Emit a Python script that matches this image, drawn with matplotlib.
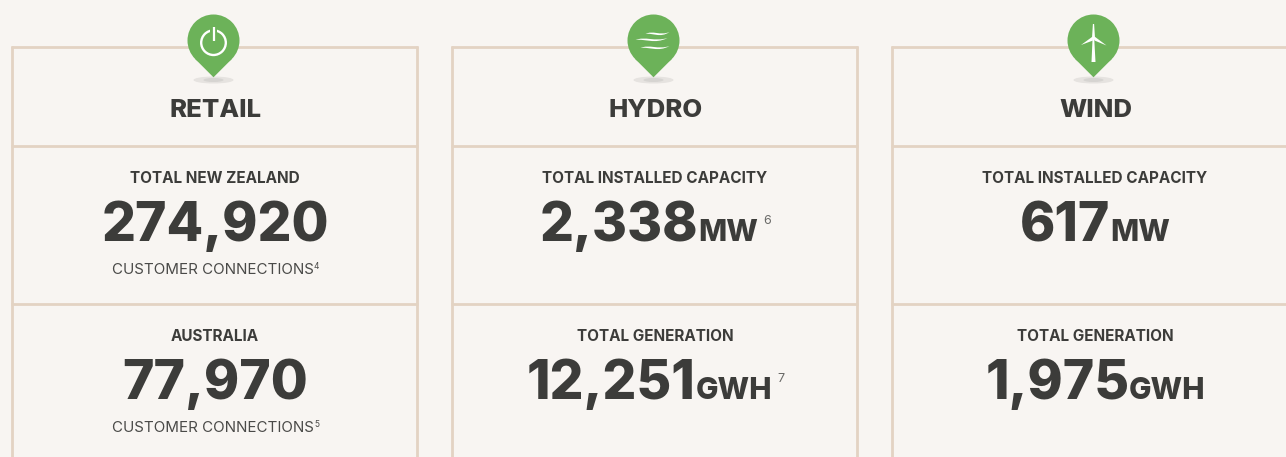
import matplotlib
matplotlib.use('Agg')
import matplotlib.pyplot as plt
from matplotlib.patches import Circle, Ellipse, PathPatch, Polygon
from matplotlib.path import Path

columns = ['RETAIL', 'HYDRO', 'WIND']
top_labels = ['TOTAL NEW ZEALAND', 'TOTAL INSTALLED CAPACITY', 'TOTAL INSTALLED CAPACITY']
top_values = ['274,920', '2,338', '617']
top_units = ['', 'MW', 'MW']
top_notes = ['', '6', '']
top_captions = ['CUSTOMER CONNECTIONS', '', '']
top_caption_notes = ['4', '', '']
bottom_labels = ['AUSTRALIA', 'TOTAL GENERATION', 'TOTAL GENERATION']
bottom_values = ['77,970', '12,251', '1,975']
bottom_units = ['', 'GWH', 'GWH']
bottom_notes = ['', '7', '']
bottom_captions = ['CUSTOMER CONNECTIONS', '', '']
bottom_caption_notes = ['5', '', '']

BG = '#f8f5f2'
LINE = '#e3d3c3'
DARK = '#3c3c3a'
GREEN = '#6cb259'
FONT = 'Inter'

fig = plt.figure(figsize=(12.86, 4.57), dpi=100, facecolor=BG)
ax = fig.add_axes([0, 0, 1, 1])
ax.set_xlim(0, 1286)
ax.set_ylim(457, 0)
ax.axis('off')
renderer = fig.canvas.get_renderer()


def width_of(t):
    return t.get_window_extent(renderer).width


def pin(cx):
    ax.add_patch(Ellipse((cx, 80), 40, 7, fc='#e6e3e0', ec='none', zorder=3))
    ax.add_patch(Ellipse((cx, 80), 20, 4, fc='#d6d4d1', ec='none', zorder=3))
    ax.add_patch(Circle((cx, 40.5), 26, fc=GREEN, ec='none', zorder=4))
    ax.add_patch(Polygon([(cx - 18.4, 58.9), (cx, 77.3), (cx + 18.4, 58.9)], fc=GREEN, ec='none', zorder=4))


def power_icon(cx):
    ax.add_patch(Circle((cx, 42.7), 12.3, fc='none', ec='white', lw=1.7, zorder=5))
    ax.add_patch(Polygon([(cx - 3.5, 24), (cx + 3.5, 24), (cx + 3.5, 44), (cx - 3.5, 44)], fc=GREEN, ec='none', zorder=6))
    ax.plot([cx, cx], [26.5, 41], color='white', lw=1.6, zorder=7, solid_capstyle='butt')


def wave(x0, x1, y):
    w = x1 - x0
    verts = [(x0, y + 1), (x0 + w * 0.3, y - 3), (x0 + w * 0.6, y + 3), (x1, y - 1),
             (x0 + w * 0.6, y + 5.5), (x0 + w * 0.3, y - 0.5), (x0, y + 1)]
    codes = [Path.MOVETO] + [Path.CURVE4] * 6
    ax.add_patch(PathPatch(Path(verts, codes), fc='white', ec='none', zorder=5))


def hydro_icon(cx):
    wave(cx - 8, cx + 16, 33)
    wave(cx - 18, cx + 14, 39)
    wave(cx - 13, cx + 16, 47)


def wind_icon(cx):
    ax.add_patch(Polygon([(cx - 2, 62), (cx + 2, 62), (cx + 0.8, 40), (cx - 1, 40)], fc='white', ec='none', zorder=5))
    ax.add_patch(Polygon([(cx - 1.5, 38), (cx - 0.6, 24), (cx + 0.6, 24), (cx + 1.5, 38)], fc='white', ec='none', zorder=5))
    ax.add_patch(Polygon([(cx - 1.5, 37), (cx - 12.5, 45), (cx - 0.5, 40.5)], fc='white', ec='none', zorder=5))
    ax.add_patch(Polygon([(cx + 1, 36.5), (cx + 13, 45.5), (cx + 1, 40.5)], fc='white', ec='none', zorder=5))
    ax.add_patch(Circle((cx, 38.5), 1.8, fc='white', ec='none', zorder=5))


def big_value(cx, y, value, unit, note):
    # measure the pieces first so the group can be centred on the box
    v = ax.text(0, y, value, fontsize=38.5, fontweight=800, family=FONT, color=DARK, va='baseline', ha='left')
    total = width_of(v)
    u = n = None
    if unit:
        u = ax.text(0, y, unit, fontsize=21.5, fontweight=800, family=FONT, color=DARK, va='baseline', ha='left')
        total += width_of(u)
    if note:
        n = ax.text(0, y - 17, note, fontsize=9, family=FONT, color='#6a6a68', va='baseline', ha='left')
        total += width_of(n) + 5
    x = cx - total / 2
    v.set_x(x)
    x += width_of(v)
    if u is not None:
        u.set_x(x)
        x += width_of(u) + 5
    if n is not None:
        n.set_x(x)


def caption(cx, y, text, note):
    c = ax.text(0, y, text, fontsize=10.9, family=FONT, color='#4a4a48', va='baseline', ha='left')
    m = ax.text(0, y - 5, note, fontsize=6, family=FONT, color='#4a4a48', va='baseline', ha='left')
    x = cx - (width_of(c) + width_of(m)) / 2
    c.set_x(x)
    m.set_x(x + width_of(c))


box_left = [12, 452, 892]
box_w = 405
for i, name in enumerate(columns):
    left = box_left[i]
    cx = left + box_w / 2 - 1
    for y in (47, 146, 304):
        ax.plot([left - 1, left + box_w + 1], [y, y], color=LINE, lw=2.0, zorder=1, solid_capstyle='butt')
    for x in (left, left + box_w):
        ax.plot([x, x], [46, 457], color=LINE, lw=2.0, zorder=1, solid_capstyle='butt')

    pin(cx)
    [power_icon, hydro_icon, wind_icon][i](cx)

    ax.text(cx + 2, 117, name, fontsize=18.5, fontweight=800, family=FONT, color=DARK, ha='center', va='baseline')
    ax.text(cx + 1.5, 183, top_labels[i], fontsize=11, fontweight='bold', family=FONT, color=DARK, ha='center', va='baseline')
    big_value(cx + 2, 241, top_values[i], top_units[i], top_notes[i])
    ax.text(cx + 1.5, 341, bottom_labels[i], fontsize=11, fontweight='bold', family=FONT, color=DARK, ha='center', va='baseline')
    big_value(cx + 2, 399, bottom_values[i], bottom_units[i], bottom_notes[i])
    if top_captions[i]:
        caption(cx + 2, 274, top_captions[i], top_caption_notes[i])
    if bottom_captions[i]:
        caption(cx + 2, 432, bottom_captions[i], bottom_caption_notes[i])

fig.savefig('out.png', dpi=100, facecolor=BG)
